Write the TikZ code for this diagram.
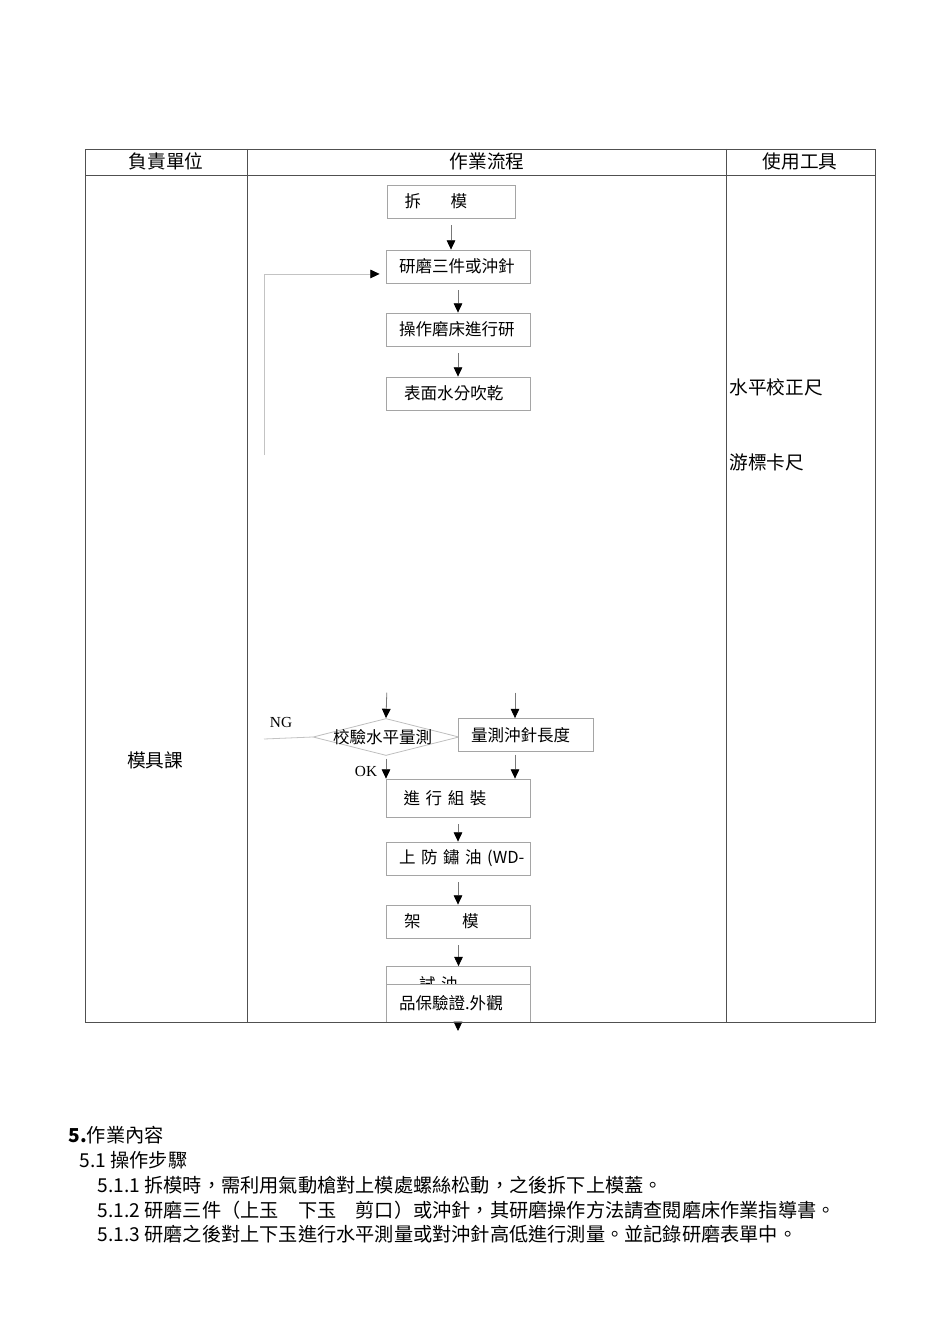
\documentclass[tikz,border=0pt]{standalone}
\usepackage{fontspec}
\setmainfont{Noto Sans CJK TC}
\newfontfamily\labelfont{Liberation Serif}
\usetikzlibrary{shapes.geometric,arrows.meta}
\tikzset{every picture/.style={line width=0.75pt}}
\tikzset{
  gridline/.style={draw={rgb, 255:red, 80; green, 80; blue, 80 }, line width=0.7pt},
  stepbox/.style={draw={rgb, 255:red, 165; green, 165; blue, 165 }, line width=0.6pt, fill=white,
    inner xsep=9.75pt, inner ysep=2pt, text width=88.5pt, align=left, minimum height=24.75pt,
    font=\fontsize{12.4}{14}\selectfont},
  checkshape/.style={diamond, draw={rgb, 255:red, 190; green, 190; blue, 190 }, line width=0.6pt,
    inner sep=0pt, minimum width=109.5pt, minimum height=27.75pt},
  boxtext/.style={font=\fontsize{12.4}{14}\selectfont, inner sep=0pt},
  headtext/.style={font=\fontsize{14}{16}\selectfont, inner sep=0pt},
  bodytext/.style={font=\fontsize{14.4}{17}\selectfont, inner sep=0pt, anchor=west},
  marktext/.style={font=\labelfont\fontsize{11.5}{13}\selectfont, inner sep=0pt},
  flowarrow/.style={draw={rgb, 255:red, 120; green, 120; blue, 120 }, line width=0.6pt,
    -{Triangle[length=7pt,width=6.5pt,color=black]}, shorten <=5pt},
  backline/.style={draw={rgb, 255:red, 195; green, 195; blue, 195 }, line width=0.6pt}
}

\begin{document}
\begin{tikzpicture}[x=0.75pt,y=0.75pt,yscale=-1,xscale=1]
		\useasboundingbox (0,0) rectangle (950,1344);
		
		% Flow Boxes
		\node[stepbox, minimum height=24.75pt, text width=76.5pt] (dismount) at (451,201.5) {\hspace*{3.5pt}拆\hspace{22pt}模};
		\node[stepbox] (grind) at (458,266.5) {研磨三件或沖針};
		\node[stepbox] (machine) at (458,329.5) {操作磨床進行研};
		\node[stepbox] (dry) at (458.5,393.5) {\hspace*{3.5pt}表面水分吹乾};
		
		\node[checkshape] (check) at (386,737) {};
		\node[boxtext] (checklabel) at ([xshift=-2.5pt]check.center) {校驗水平量測};
		\node[stepbox, text width=81.75pt] (needle) at (525.5,735) {量測沖針長度};
		
		\node[stepbox, minimum height=28.5pt] (assemble) at (458,798) {\hspace*{3.5pt}進~行~組~裝};
		\node[stepbox] (rustoil) at (458,858.5) {\mbox{上~防~鏽~油~(WD-}};
		\node[stepbox] (mount) at (458.5,921.5) {\hspace*{3.5pt}架\hspace{31pt}模};
		\node[stepbox, minimum height=27pt] (trial) at (458,984.5) {\hspace*{15pt}試~油};
		\node[stepbox, minimum height=28.5pt] (qa) at (458,1003) {品保驗證.外觀};
		
		% Free Ends
		\coordinate (checktop) at (387,686);
		\coordinate (needletop) at (515,686);
		\coordinate (ngend) at (264,739);
		\coordinate (backfoot) at (264,455);
		\coordinate (qaout) at (458,1031);
		
		%Straight Lines
		\draw[flowarrow] (dismount.south) -- (dismount.south |- grind.north);
		\draw[flowarrow] (grind.south) -- (machine.north);
		\draw[flowarrow] (machine.south) -- (machine.south |- dry.north);
		\draw[flowarrow] (checktop) -- (check.north);
		\draw[flowarrow] (needletop) -- (needletop |- needle.north);
		\draw[flowarrow, shorten <=2pt] (check.south) -- (check.south |- assemble.north);
		\draw[flowarrow, shorten <=2pt] (needletop |- needle.south) -- (needletop |- assemble.north);
		\draw[flowarrow] (assemble.south) -- (rustoil.north);
		\draw[flowarrow] (rustoil.south) -- (rustoil.south |- mount.north);
		\draw[flowarrow] (mount.south) -- (mount.south |- trial.north);
		\draw[flowarrow, shorten <=0pt] (qa.south) -- (qaout);
		
		%Straight Lines
		\draw[backline, -{Triangle[length=7pt,width=6.5pt,color=black]}, shorten >=4.5pt] (backfoot) |- ([yshift=5.6pt]grind.west);
		\draw[backline] (ngend) -- (check.west);
		
		% Text Node
		\node[marktext] (nglabel) at (281,722) {NG};
		% Text Node
		\node[marktext] (oklabel) at (366,771) {OK};
		
		% Table
		\draw[gridline] (85,149) rectangle (875,1022);
		\draw[gridline] (85,175) -- (875,175);
		\draw[gridline] (247,149) -- (247,1022);
		\draw[gridline] (726,149) -- (726,1022);
		
		% Text Node
		\node[headtext] (unithead) at (166,161) {負責單位};
		% Text Node
		\node[headtext] (flowhead) at (487,161) {作業流程};
		% Text Node
		\node[headtext] (toolhead) at (800,161) {使用工具};
		% Text Node
		\node[headtext] (moldunit) at (155,760) {模具課};
		% Text Node
		\node[headtext, anchor=west] (levelruler) at (729,387) {水平校正尺};
		% Text Node
		\node[headtext, anchor=west] (caliper) at (729,462) {游標卡尺};
		
		% Text Node
		\node[bodytext] (sectiontitle) at (68,1135) {{\bfseries 5.}作業內容};
		\node[bodytext] (stepstitle) at (79,1160) {5.1 操作步驟};
		\node[bodytext] (stepone) at (97,1185) {5.1.1 拆模時，需利用氣動槍對上模處螺絲松動，之後拆下上模蓋。};
		\node[bodytext] (steptwo) at (97,1210) {5.1.2 研磨三件（上玉　下玉　剪口）或沖針，其研磨操作方法請查閱磨床作業指導書。};
		\node[bodytext] (stepthree) at (97,1234) {5.1.3 研磨之後對上下玉進行水平測量或對沖針高低進行測量。並記錄研磨表單中。};
		
\end{tikzpicture}
\end{document}
